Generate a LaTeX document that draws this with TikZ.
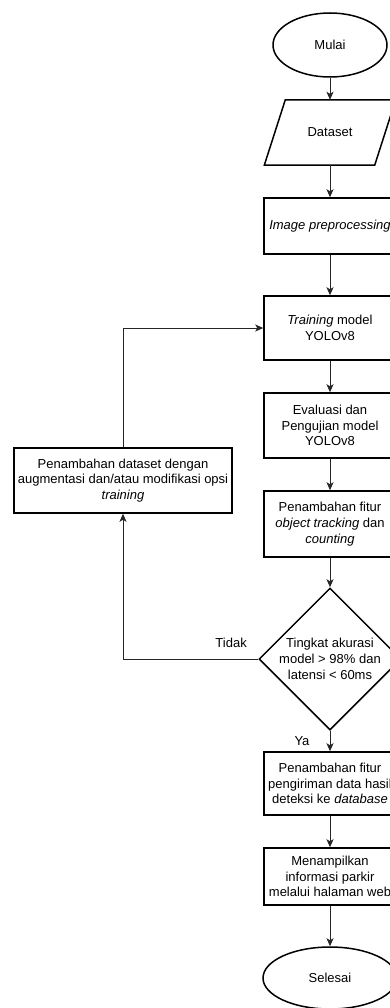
\documentclass[tikz,border=0pt]{standalone}
\usepackage{fontspec}
\setmainfont{Liberation Sans}
\usetikzlibrary{shapes.geometric,arrows.meta}
\begin{document}
\begin{tikzpicture}[x=1pt,y=-1pt,
  font=\fontsize{13}{15.8}\selectfont,
  box/.style={draw=black,line width=1.5pt,rectangle,align=center,minimum width=132pt,inner sep=0pt},
  term/.style={draw=black,line width=1.5pt,ellipse,inner sep=0pt},
  arr/.style={draw=black!85,line width=1pt,-{Stealth[length=8pt,width=7pt,inset=2pt]}},
  lbl/.style={inner sep=0pt}]
\clip (0,0) rectangle (390,1008);
\fill[white] (0,0) rectangle (390,1008);

\node[term,minimum width=114pt,minimum height=64pt] (mulai) at (330,45) {Mulai};
\node[inner sep=0pt,minimum width=110pt,minimum height=65pt] (ds) at (330,132.5) {Dataset};
\draw[line width=1.5pt] ([xshift=10.5pt]ds.north west) -- ([xshift=10.5pt]ds.north east)
  -- ([xshift=-10.5pt]ds.south east) -- ([xshift=-10.5pt]ds.south west) -- cycle;
\node[box,minimum height=56pt] (prep) at (330,226) {\textit{Image preprocessing}};
\node[box,minimum height=64pt] (train) at (330,328) {\textit{Training} model\\YOLOv8};
\node[box,minimum height=65pt] (eval) at (330,425.5) {Evaluasi dan\\Pengujian model\\YOLOv8};
\node[box,minimum height=66pt] (track) at (330,524) {Penambahan fitur\\\textit{object tracking} dan\\\textit{counting}};
\node[draw=black,line width=1.5pt,diamond,minimum width=142pt,minimum height=142pt,inner sep=0pt] (dec) at (330,659) {};
\node[align=center,inner sep=0pt] (dectext) at (dec.center) {Tingkat akurasi\\model > 98\% dan\\latensi < 60ms};
\node[box,minimum height=63pt] (kirim) at (330,783.5) {Penambahan fitur\\pengiriman data hasil\\deteksi ke \textit{database}};
\node[box,minimum height=57pt] (web) at (330,876.5) {Menampilkan\\informasi parkir\\melalui halaman web};
\node[term,minimum width=134pt,minimum height=62pt] (selesai) at (330,978) {Selesai};
\node[box,minimum width=218pt,minimum height=65pt] (aug) at (123,480.5) {Penambahan dataset dengan\\augmentasi dan/atau modifikasi opsi\\\textit{training}};

\node[lbl,anchor=east] (tidak) at (247,643) {Tidak};
\node[lbl] (ya) at (302,741) {Ya};

\draw[arr] (mulai) -- (ds.north);
\draw[arr] (ds.south) -- (prep);
\draw[arr] (prep) -- (train);
\draw[arr] (train) -- (eval);
\draw[arr] (eval) -- (track);
\draw[arr] (track) -- (dec.north);
\draw[arr] (dec.south) -- (kirim);
\draw[arr] (kirim) -- (web);
\draw[arr] (web) -- (selesai);
\draw[arr] (dec.west) -- (dec.west -| aug.south) -- (aug.south);
\draw[arr] (aug.north) |- (train.west);
\end{tikzpicture}
\end{document}
